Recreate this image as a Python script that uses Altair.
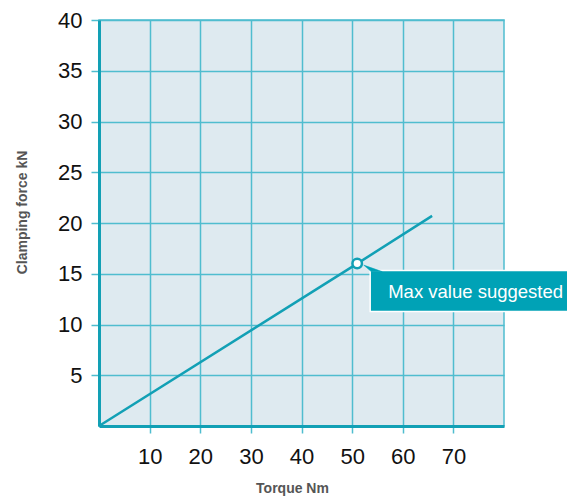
import altair as alt
import pandas as pd

# Data
torque = [0, 51, 65.8]
force = [0, 16, 20.7]
max_torque = [51]
max_force = [16]
callout_text = ["Max value suggested"]
x_ticks = [10, 20, 30, 40, 50, 60, 70]
y_ticks = [5, 10, 15, 20, 25, 30, 35, 40]

line_df = pd.DataFrame({"Torque": torque, "Force": force})
pt_df = pd.DataFrame({"Torque": max_torque, "Force": max_force, "label": callout_text})

TEAL = "#12a0b5"
GRID = "#4fbdcf"
FONT = "Liberation Sans, Arial, sans-serif"

xs = alt.Scale(domain=[0, 80], nice=False, zero=True)
ys = alt.Scale(domain=[0, 40], nice=False, zero=True)

x_axis = alt.Axis(
    values=x_ticks, title="Torque Nm", grid=True, gridColor=GRID, gridWidth=1.5,
    domainColor=TEAL, domainWidth=3, tickColor=GRID, tickWidth=1.5, tickSize=7,
    labelFont=FONT, labelFontSize=22, labelColor="#111111", labelPadding=13,
    titleFont=FONT, titleFontSize=14, titleFontWeight="bold", titleColor="#555555",
    titleX=193, titleY=62, titleBaseline="middle", titleAlign="center",
)
y_axis = alt.Axis(
    values=y_ticks, title="Clamping force kN", grid=True, gridColor=GRID, gridWidth=1.5,
    domainColor=TEAL, domainWidth=3, tickColor=GRID, tickWidth=1.5, tickSize=8,
    labelFont=FONT, labelFontSize=22, labelColor="#111111", labelPadding=9,
    titleFont=FONT, titleFontSize=14, titleFontWeight="bold", titleColor="#555555",
    titleX=-77, titleY=192, titleBaseline="middle", titleAlign="center", titleAngle=-90,
)

line = alt.Chart(line_df).mark_line(color=TEAL, strokeWidth=2.5).encode(
    x=alt.X("Torque:Q", scale=xs, axis=x_axis),
    y=alt.Y("Force:Q", scale=ys, axis=y_axis),
)

pt = alt.Chart(pt_df).mark_point(
    filled=True, fill="white", stroke=TEAL, strokeWidth=2.5, size=90, opacity=1
).encode(x=alt.X("Torque:Q", scale=xs), y=alt.Y("Force:Q", scale=ys))

box = alt.Chart(pt_df).mark_rect(
    color="#00a2b6", stroke="white", strokeWidth=1.5,
    xOffset=13, x2Offset=212, yOffset=7, y2Offset=48,
).encode(
    x=alt.X("Torque:Q", scale=xs), x2="Torque:Q",
    y=alt.Y("Force:Q", scale=ys), y2="Force:Q",
)

wedge = alt.Chart(pt_df).mark_point(
    shape="M -0.85 -0.35 L -0.1 0.3 L 1 0.3 Z", filled=True, fill="#00a2b6",
    stroke="#00a2b6", strokeWidth=0.5, size=400, opacity=1, xOffset=15, yOffset=5,
).encode(x=alt.X("Torque:Q", scale=xs), y=alt.Y("Force:Q", scale=ys))

txt = alt.Chart(pt_df).mark_text(
    align="left", baseline="middle", dx=31, dy=28, font=FONT, fontSize=18.5,
    color="white",
).encode(x=alt.X("Torque:Q", scale=xs), y=alt.Y("Force:Q", scale=ys), text="label:N")

chart = alt.layer(line, box, wedge, pt, txt).properties(
    width=405, height=406,
    autosize=alt.AutoSizeParams(type="none"),
    padding={"left": 91, "top": 12, "right": 63, "bottom": 70},
    background="white",
).configure_view(fill="#deeaf0", stroke=GRID, strokeWidth=1.5)

chart.save("out.html", embed_options={"renderer": "svg", "actions": False})
